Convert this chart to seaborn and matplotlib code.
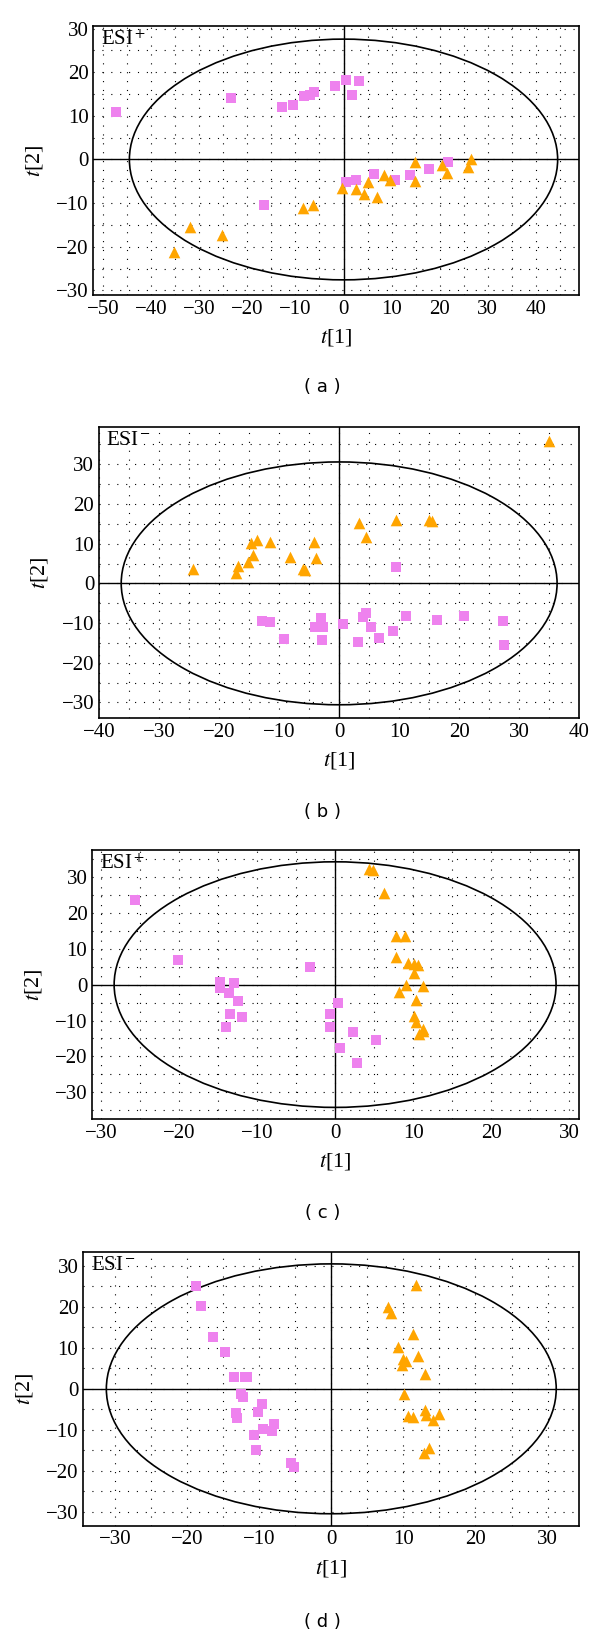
import numpy as np
import pandas as pd
import matplotlib
matplotlib.use("Agg")
import matplotlib.pyplot as plt
import seaborn as sns
from matplotlib.patches import Ellipse
from matplotlib.ticker import MultipleLocator

# ---- panel (a) ESI+ ----
a_sq_x = [-47.3, -23.3, -12.7, -10.5, -8.3, -6.9, -6.2, -16.6, -1.8, 0.6, 3.3, 1.7,
          0.6, 2.6, 6.3, 10.8, 13.8, 17.7, 21.8]
a_sq_y = [11.0, 14.1, 12.0, 12.6, 14.5, 14.9, 15.4, -10.5, 16.8, 18.2, 18.0, 14.9,
          -5.1, -4.7, -3.4, -4.7, -3.5, -2.2, -0.5]
a_tri_x = [-35.2, -32.0, -25.2, -8.5, -6.3, -0.3, 2.6, 4.2, 5.1, 7.0, 8.4, 9.6,
           14.8, 14.8, 20.4, 21.6, 25.8, 26.4]
a_tri_y = [-21.1, -15.5, -17.4, -11.2, -10.4, -6.6, -6.8, -8.0, -5.2, -8.5, -3.5, -4.7,
           -0.6, -4.9, -1.2, -3.1, -1.8, 0.1]

# ---- panel (b) ESI- ----
b_sq_x = [-12.9, -11.6, -9.2, -4.0, -3.1, -2.7, -2.8, 0.7, 3.1, 3.9, 4.4, 5.3, 6.6,
          8.9, 11.1, 16.3, 20.8, 27.3, 27.4, 9.5]
b_sq_y = [-9.4, -9.7, -13.9, -11.1, -8.7, -11.1, -14.4, -10.3, -14.9, -8.4, -7.5, -10.9,
          -13.7, -11.9, -8.3, -9.2, -8.3, -9.4, -15.5, 4.2]
b_tri_x = [-24.3, -17.1, -16.9, -15.1, -14.4, -14.6, -13.7, -11.6, -8.2, -6.0, -5.7,
           -4.2, -3.8, 3.3, 4.4, 9.5, 15.0, 15.4, 35.0]
b_tri_y = [3.5, 2.5, 4.4, 5.4, 7.1, 10.1, 10.9, 10.5, 6.7, 3.5, 3.3,
           10.5, 6.5, 15.1, 11.6, 15.9, 16.0, 15.8, 35.9]

# ---- panel (c) ESI+ ----
c_sq_x = [-25.6, -20.1, -14.8, -14.8, -12.9, -13.6, -12.4, -13.5, -11.9, -14.0, -3.2,
          0.4, -0.6, -0.7, 2.3, 0.6, 2.8, 5.3]
c_sq_y = [23.6, 6.9, 0.7, -1.0, 0.4, -2.2, -4.7, -8.2, -9.1, -11.9, 4.8,
          -5.0, -8.2, -11.7, -13.1, -17.7, -21.7, -15.4]
c_tri_x = [4.3, 4.8, 6.3, 7.8, 8.9, 7.8, 9.4, 10.1, 10.6, 10.1, 9.1, 11.3, 8.2, 10.3,
           10.1, 10.4, 11.2, 10.8, 11.3]
c_tri_y = [32.3, 32.0, 25.6, 13.6, 13.6, 7.6, 6.1, 5.7, 5.4, 3.3, 0.0, -0.4, -2.1, -4.3,
           -8.7, -10.5, -12.4, -13.7, -13.0]

# ---- panel (d) ESI- ----
d_sq_x = [-18.7, -18.1, -16.4, -14.7, -13.5, -12.0, -11.7, -12.5, -12.2, -13.2, -13.1,
          -9.6, -10.1, -9.5, -10.7, -10.4, -7.9, -8.2, -5.6, -5.2]
d_sq_y = [25.1, 20.1, 12.6, 9.0, 2.8, 2.8, 2.9, -1.2, -1.9, -5.9, -7.2,
          -3.7, -5.7, -9.7, -11.2, -14.9, -8.6, -10.2, -18.1, -19.1]
d_tri_x = [11.8, 7.9, 8.3, 11.3, 9.2, 12.0, 10.4, 9.8, 10.0, 13.0, 10.1, 10.7, 11.4,
           13.0, 13.1, 14.1, 14.9, 12.8, 13.6]
d_tri_y = [25.4, 19.9, 18.6, 13.3, 10.3, 8.0, 6.8, 5.9, 7.2, 3.7, -1.2, -6.7, -6.8,
           -5.1, -6.3, -7.6, -6.1, -15.7, -14.5]

# Hotelling ellipse semi-axes (t1, t2) per panel
ellipses = {"a": (44.5, 27.6), "b": (36.3, 30.6), "c": (28.3, 34.2), "d": (31.2, 30.5)}
ion_mode = {"a": "ESI$^+$", "b": "ESI$^-$", "c": "ESI$^+$", "d": "ESI$^-$"}

sns.set_style("white")
plt.rcParams["font.family"] = ["Liberation Serif", "DejaVu Serif"]
plt.rcParams["mathtext.fontset"] = "stix"
plt.rcParams["text.color"] = "black"
plt.rcParams["axes.labelcolor"] = "black"
plt.rcParams["xtick.color"] = "black"
plt.rcParams["ytick.color"] = "black"

fig = plt.figure(figsize=(6, 16.38), dpi=100)

panels = [
    ("a", a_sq_x, a_sq_y, a_tri_x, a_tri_y, (-52, 49), (-31, 30.6),
     [0.1555, 0.8201, 0.81, 0.164], 0.764),
    ("b", b_sq_x, b_sq_y, b_tri_x, b_tri_y, (-40, 40), (-34, 39.4),
     [0.165, 0.5615, 0.8005, 0.1778], 0.5045),
    ("c", c_sq_x, c_sq_y, c_tri_x, c_tri_y, (-31.1, 31.2), (-37.5, 37.5),
     [0.1538, 0.3167, 0.8107, 0.1644], 0.2595),
    ("d", d_sq_x, d_sq_y, d_tri_x, d_tri_y, (-34.4, 34.4), (-33.4, 33.5),
     [0.1388, 0.0686, 0.8267, 0.1673], 0.0100),
]

for key, sx, sy, tx, ty, xlim, ylim, pos, cap_y in panels:
    ax = fig.add_axes(pos)
    sq = pd.DataFrame({"t1": sx, "t2": sy})
    tri = pd.DataFrame({"t1": tx, "t2": ty})

    ax.xaxis.set_major_locator(MultipleLocator(10))
    ax.xaxis.set_minor_locator(MultipleLocator(5))
    ax.yaxis.set_major_locator(MultipleLocator(10))
    ax.yaxis.set_minor_locator(MultipleLocator(5))
    ax.grid(which="both", color="black", linestyle=(0, (1, 7)), linewidth=0.8)
    ax.set_axisbelow(True)

    ax.axhline(0, color="black", linewidth=1.0, zorder=1)
    ax.axvline(0, color="black", linewidth=1.0, zorder=1)
    w, h = ellipses[key]
    ax.add_patch(Ellipse((0, 0), 2 * w, 2 * h, fill=False, edgecolor="black",
                         linewidth=1.2, zorder=2))

    sns.scatterplot(data=sq, x="t1", y="t2", marker="s", color="#ee82ee", s=45,
                    linewidth=0, ax=ax, zorder=3)
    sns.scatterplot(data=tri, x="t1", y="t2", marker="^", color="#ffa500", s=70,
                    linewidth=0, ax=ax, zorder=3)

    ax.set_xlim(*xlim)
    ax.set_ylim(*ylim)
    for sp in ax.spines.values():
        sp.set_linewidth(1.2)
        sp.set_color("black")
    ax.tick_params(which="both", direction="in", top=False, right=False,
                   labelsize=15, length=5, width=1.0, color="black",
                   labelcolor="black")
    ax.tick_params(which="minor", length=4)
    ax.set_xticks([t for t in np.arange(-50, 51, 10) if xlim[0] <= t <= xlim[1]])
    ax.set_xticklabels([f"{int(t)}".replace("-", "\u2212") for t in ax.get_xticks()])
    ax.set_yticks([t for t in np.arange(-50, 51, 10) if ylim[0] <= t <= ylim[1]])
    ax.set_yticklabels([f"{int(t)}".replace("-", "\u2212") for t in ax.get_yticks()])

    ax.set_xlabel("$t$[1]", fontsize=16, labelpad=6, color="black")
    ax.set_ylabel("$t$[2]", fontsize=16, labelpad=8, color="black")
    ax.text(0.015, 0.985, ion_mode[key], transform=ax.transAxes, ha="left",
            va="top", fontsize=15, color="black")

    fig.text(0.538, cap_y, f"( {key} )", ha="center", va="center",
             fontsize=13, family=["DejaVu Sans"], color="black")

fig.savefig("out.png", dpi=100)
